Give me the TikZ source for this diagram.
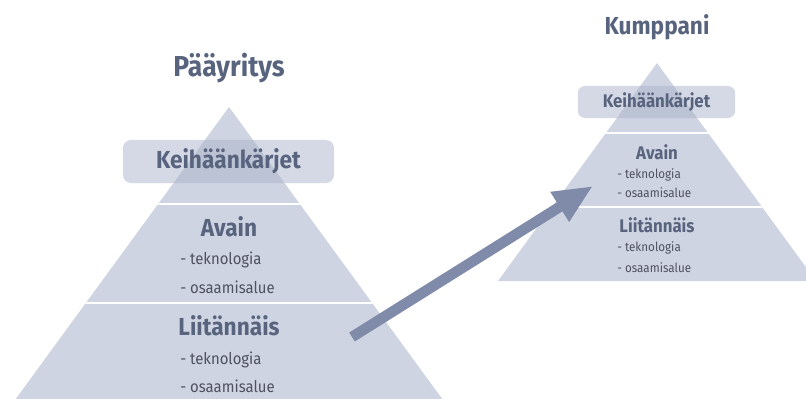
\documentclass[tikz,border=0pt]{standalone}
\usepackage{fontspec}
\setmainfont{Fira Sans}
\usetikzlibrary{arrows.meta,positioning}

\definecolor{pyrfill}{RGB}{206,212,225}
\definecolor{capfill}{RGB}{170,180,203}
\definecolor{titletxt}{RGB}{88,99,126}
\definecolor{itemtxt}{RGB}{78,82,94}
\definecolor{arrowcol}{RGB}{127,139,168}

\tikzset{
  pyramid/.style={fill=pyrfill, draw=none},
  divider/.style={draw=white, line width=1.4pt},
  capbox/.style={rectangle, rounded corners=6pt, fill=capfill, fill opacity=0.5, draw=none, inner sep=0pt},
  bigtitle/.style={font=\fontsize{20.5}{24}\selectfont\bfseries, text=titletxt, xscale=0.92, inner sep=0pt},
  biglabel/.style={font=\fontsize{17.5}{21}\selectfont\bfseries, text=titletxt, xscale=0.92, inner sep=0pt},
  smalllabel/.style={font=\fontsize{13}{16}\selectfont\bfseries, text=titletxt, xscale=0.92, inner sep=0pt},
  bigitem/.style={font=\fontsize{11.5}{13}\selectfont, text=itemtxt, xscale=0.92, anchor=west, inner sep=0pt},
  smallitem/.style={font=\fontsize{9}{11}\selectfont, text=itemtxt, xscale=0.92, anchor=west, inner sep=0pt},
  linkarrow/.style={draw=arrowcol, line width=7.5pt, -{Triangle[length=28pt,width=23pt]}}
}

\begin{document}
\begin{tikzpicture}[x=0.025cm, y=-0.025cm]
  \useasboundingbox (0,0) rectangle (806,399);
  \clip (0,0) rectangle (806,399);

  % left pyramid (Pääyritys)
  \fill[pyramid] (229,107) -- (15,400) -- (443,400) -- cycle;
  \begin{scope}
    \clip (229,107) -- (15,400) -- (443,400) -- cycle;
    \draw[divider] (0,204) -- (460,204);
    \draw[divider] (0,303) -- (460,303);
  \end{scope}
  \node[capbox, minimum width=5.28cm, minimum height=1.08cm] (capL) at (228.5,161.5) {};

  \node[bigtitle] (mainT) at (229,68) {Pääyritys};
  \node[biglabel] (spearL) at (capL) {Keihäänkärjet};
  \node[biglabel] (keyL) at (229,227) {Avain};
  \node[bigitem] (keyL1) at (180,260) {- teknologia};
  \node[bigitem] (keyL2) at (180,287) {- osaamisalue};
  \node[biglabel] (addL) at (229,326) {Liitännäis};
  \node[bigitem] (addL1) at (180,360) {- teknologia};
  \node[bigitem] (addL2) at (180,386) {- osaamisalue};

  % right pyramid (Kumppani)
  \fill[pyramid] (657,63) -- (498,281) -- (816,281) -- cycle;
  \begin{scope}
    \clip (657,63) -- (498,281) -- (816,281) -- cycle;
    \draw[divider] (480,133) -- (820,133);
    \draw[divider] (480,207) -- (820,207);
  \end{scope}
  \node[capbox, rounded corners=5pt, minimum width=3.93cm, minimum height=0.8cm] (capR) at (656.5,102) {};

  \node[biglabel] (partT) at (657,27) {Kumppani};
  \node[smalllabel] (spearR) at (capR) {Keihäänkärjet};
  \node[smalllabel] (keyR) at (657,152) {Avain};
  \node[smallitem] (keyR1) at (617,175) {- teknologia};
  \node[smallitem] (keyR2) at (617,193) {- osaamisalue};
  \node[smalllabel] (addR) at (657,225) {Liitännäis};
  \node[smallitem] (addR1) at (617,248) {- teknologia};
  \node[smallitem] (addR2) at (617,268) {- osaamisalue};

  % transfer arrow
  \coordinate (from) at (352,337);
  \coordinate (to) at (593,186);
  \draw[linkarrow] (from) -- (to);
\end{tikzpicture}
\end{document}
